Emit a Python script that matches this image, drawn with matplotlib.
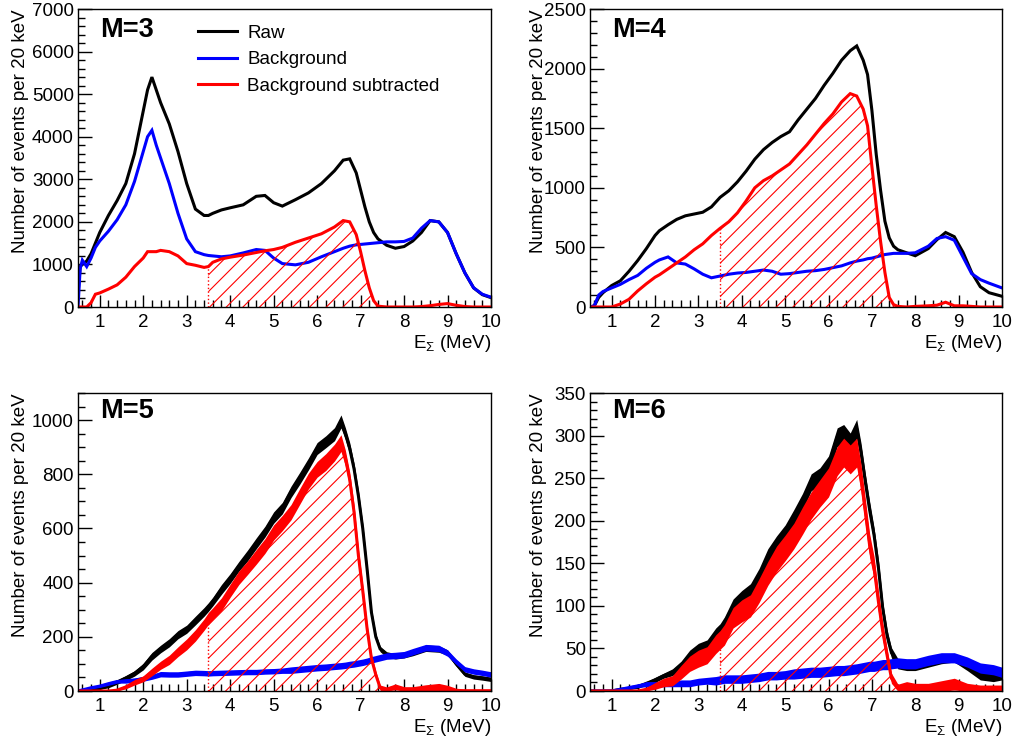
import numpy as np
import matplotlib
matplotlib.use('Agg')
import matplotlib.pyplot as plt
from matplotlib.ticker import MultipleLocator

plt.rcParams['font.family'] = ['Liberation Sans', 'DejaVu Sans']
plt.rcParams['mathtext.fontset'] = 'custom'
plt.rcParams['mathtext.rm'] = 'Liberation Sans'
plt.rcParams['mathtext.it'] = 'Liberation Sans:italic'
plt.rcParams['hatch.linewidth'] = 0.8

# ---------------- data ----------------
# M = 3
E3 = [0.50, 0.55, 0.60, 0.70, 0.80, 0.90, 1.00, 1.20, 1.40, 1.60, 1.80, 2.00, 2.10, 2.20,
      2.30, 2.40, 2.60, 2.80, 3.00, 3.20, 3.40, 3.50, 3.60, 3.80, 4.00, 4.30, 4.60, 4.80,
      5.00, 5.20, 5.50, 5.80, 6.10, 6.40, 6.60, 6.75, 6.90, 7.00, 7.10, 7.20, 7.30, 7.40,
      7.60, 7.80, 8.00, 8.20, 8.40, 8.60, 8.80, 9.00, 9.20, 9.40, 9.60, 9.80, 10.00]
raw3 = [300, 950, 1000, 1080, 1250, 1500, 1750, 2150, 2500, 2900, 3600, 4600, 5100, 5400,
        5100, 4800, 4300, 3650, 2900, 2300, 2150, 2150, 2200, 2280, 2330, 2400, 2600, 2620,
        2450, 2370, 2520, 2680, 2900, 3200, 3450, 3480, 3150, 2750, 2350, 2000, 1750, 1600,
        1450, 1380, 1420, 1550, 1750, 2030, 2000, 1750, 1250, 800, 450, 290, 220]
bkg3 = [0, 900, 1100, 950, 1150, 1400, 1550, 1780, 2050, 2400, 2950, 3650, 4000, 4150,
        3800, 3500, 2900, 2200, 1600, 1300, 1230, 1210, 1200, 1180, 1200, 1270, 1350, 1330,
        1150, 1020, 990, 1050, 1180, 1300, 1380, 1430, 1460, 1470, 1480, 1490, 1500, 1510,
        1530, 1530, 1540, 1620, 1850, 2030, 2000, 1750, 1250, 800, 450, 300, 230]
sub3 = [0, 0, 0, 0, 100, 300, 330, 420, 520, 700, 950, 1150, 1300, 1300,
        1300, 1330, 1300, 1200, 1020, 980, 930, 950, 1050, 1130, 1170, 1220, 1280, 1320,
        1350, 1400, 1520, 1620, 1720, 1880, 2030, 2000, 1700, 1300, 850, 450, 150, 20,
        0, 0, 0, 0, 10, 30, 60, 80, 40, 10, 0, 0, 0]

# M = 4
E4 = [0.50, 0.60, 0.70, 0.80, 1.00, 1.20, 1.40, 1.60, 1.80, 2.00, 2.10, 2.30, 2.50, 2.70,
      2.90, 3.10, 3.30, 3.50, 3.70, 3.90, 4.10, 4.30, 4.50, 4.70, 4.90, 5.10, 5.30, 5.50,
      5.70, 5.90, 6.10, 6.30, 6.50, 6.65, 6.80, 6.90, 7.00, 7.10, 7.20, 7.30, 7.40, 7.50,
      7.60, 7.80, 8.00, 8.30, 8.50, 8.70, 8.90, 9.10, 9.30, 9.50, 9.70, 10.00]
raw4 = [0, 10, 80, 120, 180, 220, 300, 390, 490, 600, 640, 690, 735, 765,
        780, 795, 840, 920, 975, 1050, 1140, 1240, 1320, 1380, 1430, 1470, 1570, 1660,
        1750, 1860, 1960, 2070, 2150, 2190, 2070, 1950, 1650, 1280, 980, 720, 580, 510,
        480, 455, 430, 490, 565, 625, 590, 460, 290, 170, 120, 90]
bkg4 = [0, 10, 100, 130, 160, 190, 230, 265, 325, 375, 395, 420, 370, 360,
        320, 275, 245, 260, 275, 285, 290, 300, 310, 300, 275, 280, 290, 300,
        305, 315, 330, 345, 370, 385, 395, 405, 410, 420, 430, 440, 445, 450,
        450, 450, 455, 510, 575, 590, 560, 420, 280, 230, 200, 160]
sub4 = [0, 0, 0, 0, 0, 25, 65, 135, 195, 250, 270, 320, 370, 420,
        480, 530, 600, 660, 715, 790, 890, 1000, 1060, 1100, 1150, 1200, 1280, 1360,
        1450, 1540, 1620, 1720, 1790, 1770, 1660, 1520, 1180, 850, 550, 290, 80, 20,
        5, 0, 5, 10, 15, 40, 10, 10, 5, 0, 0, 0]

# M = 5
E5 = [0.50, 0.80, 1.00, 1.20, 1.40, 1.60, 1.80, 2.00, 2.20, 2.40, 2.60, 2.80, 3.00, 3.20,
      3.40, 3.50, 3.60, 3.80, 4.00, 4.20, 4.40, 4.60, 4.80, 5.00, 5.20, 5.40, 5.60, 5.80,
      6.00, 6.20, 6.40, 6.55, 6.65, 6.75, 6.85, 6.95, 7.05, 7.15, 7.25, 7.35, 7.45, 7.60,
      7.80, 8.00, 8.20, 8.50, 8.80, 9.00, 9.20, 9.40, 9.60, 9.80, 10.00]
raw5 = [0, 5, 10, 18, 33, 48, 65, 90, 128, 155, 178, 208, 228, 260,
        292, 310, 330, 375, 415, 460, 500, 545, 588, 640, 675, 735, 785, 838,
        895, 920, 948, 995, 950, 895, 820, 720, 600, 450, 290, 200, 155, 135,
        128, 132, 140, 158, 155, 142, 100, 62, 52, 48, 43]
bkg5 = [0, 12, 18, 27, 35, 37, 40, 45, 52, 62, 61, 61, 64, 67,
        66, 65, 66, 67, 68, 69, 70, 70, 72, 73, 75, 77, 80, 83,
        86, 88, 91, 93, 95, 98, 100, 103, 106, 110, 115, 119, 123, 129,
        131, 134, 145, 160, 157, 140, 108, 80, 72, 67, 61]
sub5 = [0, 0, 0, 0, 3, 15, 32, 45, 70, 95, 115, 145, 172, 205,
        245, 268, 285, 320, 370, 418, 455, 495, 535, 585, 620, 660, 718, 775,
        818, 845, 880, 915, 860, 780, 660, 500, 370, 230, 120, 60, 12, 5,
        15, 5, 5, 10, 15, 10, 0, 0, 0, 0, 0]
# half-width of the visible statistical-noise band
raw5_spread = [0, 3, 4, 6, 8, 9, 10, 12, 14, 14, 15, 15, 15, 16,
               16, 16, 16, 18, 18, 18, 20, 20, 20, 21, 21, 21, 22, 22,
               22, 22, 24, 24, 22, 22, 21, 20, 18, 16, 14, 12, 10, 10,
               10, 10, 10, 12, 12, 10, 9, 8, 8, 8, 8]
bkg5_spread = [0, 4, 5, 6, 6, 8, 8, 9, 9, 10, 10, 10, 10, 10,
               10, 10, 10, 10, 10, 10, 10, 10, 10, 10, 10, 12, 12, 12,
               12, 12, 12, 12, 12, 12, 12, 12, 12, 12, 12, 12, 12, 12,
               12, 12, 12, 12, 12, 12, 10, 10, 10, 10, 10]
sub5_spread = [0, 0, 0, 0, 4, 7, 10, 11, 14, 15, 17, 18, 20, 21,
               21, 22, 22, 24, 24, 25, 25, 27, 27, 28, 28, 28, 29, 29,
               29, 31, 31, 31, 29, 28, 27, 24, 21, 18, 15, 13, 10, 10,
               11, 11, 11, 13, 13, 11, 10, 8, 8, 8, 8]

# M = 6
E6 = [0.50, 1.00, 1.20, 1.40, 1.60, 1.80, 2.00, 2.20, 2.40, 2.60, 2.80, 3.00, 3.20, 3.40,
      3.50, 3.60, 3.80, 4.00, 4.20, 4.40, 4.60, 4.80, 5.00, 5.20, 5.40, 5.60, 5.80, 6.00,
      6.20, 6.35, 6.50, 6.65, 6.75, 6.85, 6.95, 7.05, 7.15, 7.25, 7.35, 7.45, 7.60, 7.80,
      8.00, 8.30, 8.60, 8.90, 9.20, 9.50, 9.80, 10.00]
raw6 = [0, 0, 2, 3, 5, 9, 13, 18, 22, 30, 42, 50, 54, 67,
        72, 80, 100, 110, 118, 135, 158, 173, 185, 203, 222, 245, 252, 265,
        298, 302, 292, 308, 280, 245, 212, 183, 145, 97, 65, 45, 32, 29,
        29, 33, 37, 39, 29, 18, 16, 18]
bkg6 = [0, 0, 2, 4, 6, 8, 8, 8, 8, 9, 9, 11, 12, 12,
        13, 14, 14, 14, 15, 16, 18, 18, 19, 20, 21, 22, 22, 23,
        24, 24, 25, 26, 27, 28, 29, 29, 30, 31, 31, 32, 33, 32,
        32, 36, 39, 39, 34, 27, 25, 22]
sub6 = [0, 0, 0, 0, 0, 2, 6, 10, 12, 22, 32, 38, 42, 55,
        60, 66, 86, 94, 100, 118, 138, 155, 168, 182, 200, 218, 232, 245,
        270, 280, 272, 280, 250, 210, 170, 145, 105, 70, 42, 15, 3, 5,
        3, 3, 5, 8, 3, 2, 2, 2]
raw6_spread = [0, 0, 1, 1, 2, 2, 3, 3, 4, 5, 6, 6, 6, 7,
               7, 7, 8, 8, 8, 9, 9, 9, 10, 10, 10, 10, 10, 11,
               11, 11, 11, 11, 11, 10, 10, 9, 9, 8, 7, 6, 6, 5,
               5, 5, 5, 5, 5, 5, 5, 5]
bkg6_spread = [0, 0, 1, 2, 2, 3, 3, 3, 3, 4, 4, 4, 4, 5,
               5, 5, 5, 5, 5, 5, 5, 5, 5, 6, 6, 6, 6, 6,
               6, 6, 6, 6, 6, 6, 6, 6, 6, 6, 6, 6, 6, 6,
               6, 6, 6, 6, 6, 6, 6, 6]
sub6_spread = [0, 0, 0, 0, 0, 2, 4, 5, 6, 8, 9, 10, 10, 11,
               11, 12, 12, 13, 13, 14, 14, 15, 15, 15, 16, 16, 16, 17,
               17, 17, 17, 17, 16, 15, 14, 13, 12, 10, 8, 6, 5, 6,
               6, 6, 7, 7, 6, 5, 5, 5]

labels = ['M=3', 'M=4', 'M=5', 'M=6']
series = [(E3, raw3, bkg3, sub3), (E4, raw4, bkg4, sub4),
          (E5, raw5, bkg5, sub5), (E6, raw6, bkg6, sub6)]
spreads = [None, None,
           (raw5_spread, bkg5_spread, sub5_spread),
           (raw6_spread, bkg6_spread, sub6_spread)]
ymax = [7000, 2500, 1100, 350]
ymajor = [1000, 500, 200, 50]
yminor = [200, 100, 50, 10]
HATCH_LO, HATCH_HI = 3.5, 7.6
legend_labels = ['Raw', 'Background', 'Background subtracted']
colors = ['black', '#0000ff', '#ff0000']

# ---------------- layout ----------------
W, H = 1017, 742
fig = plt.figure(figsize=(W / 100, H / 100), dpi=100)
boxes = [(78, 9, 491, 307), (590, 9, 1002, 307), (78, 393, 491, 691), (590, 393, 1002, 691)]
FS = 13.5
LW = 2.2

for i, (E, raw, bkg, sub) in enumerate(series):
    x0, y0, x1, y1 = boxes[i]
    ax = fig.add_axes([x0 / W, 1 - y1 / H, (x1 - x0) / W, (y1 - y0) / H])
    E = np.asarray(E, float)
    vals = [np.asarray(v, float) for v in (raw, bkg, sub)]
    lines = []
    for k in range(3):
        if k == 2:
            m = (E >= HATCH_LO) & (E <= HATCH_HI)
            ax.fill_between(E[m], 0, vals[2][m], facecolor='none', edgecolor='red',
                            hatch='//', linewidth=0, zorder=2.5)
            ax.vlines(HATCH_LO, 0, np.interp(HATCH_LO, E, vals[2]), colors='red',
                      linestyles=':', lw=1.0, zorder=2.5)
        if spreads[i] is not None:
            sp = np.asarray(spreads[i][k], float)
            ax.fill_between(E, np.clip(vals[k] - sp, 0, None), vals[k] + sp,
                            color=colors[k], linewidth=0, zorder=2 + k * 0.3)
        ln, = ax.plot(E, vals[k], color=colors[k], lw=LW, solid_joinstyle='miter',
                      zorder=2.1 + k * 0.3)
        lines.append(ln)

    ax.set_xlim(0.5, 10)
    ax.set_ylim(0, ymax[i])
    ax.xaxis.set_major_locator(MultipleLocator(1))
    ax.xaxis.set_minor_locator(MultipleLocator(0.2))
    ax.yaxis.set_major_locator(MultipleLocator(ymajor[i]))
    ax.yaxis.set_minor_locator(MultipleLocator(yminor[i]))
    ax.tick_params(which='both', direction='in', top=False, right=False,
                   labelsize=FS, width=1, colors='black')
    ax.tick_params(axis='y', which='major', length=10, pad=3)
    ax.tick_params(axis='y', which='minor', length=5)
    ax.tick_params(axis='x', which='major', length=9, pad=5)
    ax.tick_params(axis='x', which='minor', length=5)
    for s in ax.spines.values():
        s.set_linewidth(1.0)
        s.set_zorder(5)

    ax.set_xlabel(r'$\mathregular{E_{\Sigma}}$ (MeV)', fontsize=FS, loc='right')
    ax.xaxis.set_label_coords(1.0, -0.088)
    ax.set_ylabel('Number of events per 20 keV', fontsize=FS, loc='top')
    ax.yaxis.set_label_coords(-0.118 if i % 2 == 0 else -0.105, 1.0)

    ax.text(0.053, 0.93 if i < 2 else 0.94, labels[i], transform=ax.transAxes,
            fontsize=19.5, fontweight='bold', va='center', ha='left')

    if i == 0:
        ax.legend(lines, legend_labels, loc='upper left',
                  bbox_to_anchor=(0.29, 0.948), frameon=False, fontsize=FS,
                  handlelength=2.1, handletextpad=0.55, labelspacing=0.5,
                  borderpad=0, borderaxespad=0)

fig.savefig('out.png', dpi=100)
